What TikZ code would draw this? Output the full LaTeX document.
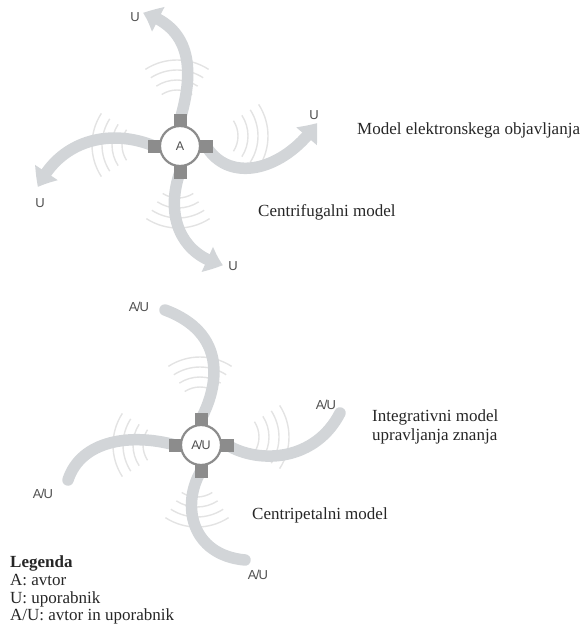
\documentclass[tikz,border=0pt]{standalone}
\usepackage{fontspec}
\setmainfont{Liberation Serif}
\setsansfont{Liberation Sans}
\usetikzlibrary{arrows.meta,bending}
\definecolor{armgrey}{HTML}{D2D5D8}
\definecolor{wavegrey}{HTML}{E3E3E3}
\definecolor{hubgrey}{HTML}{8C8C8C}
\definecolor{inkgrey}{HTML}{505050}
\definecolor{textink}{HTML}{262626}
\begin{document}
\begin{tikzpicture}[x=1pt,y=1pt,
  arm/.style={draw=armgrey, line width=11.5pt},
  armtip/.style={arm, -{Triangle[width=26pt,length=17pt,bend]}},
  armend/.style={arm, line cap=round},
  wave/.style={draw=wavegrey, line width=1.4pt},
  port/.style={fill=hubgrey, minimum size=13pt, inner sep=0pt, draw=none},
  hub/.style={circle, draw=hubgrey, line width=2.2pt, fill=white, minimum size=40pt,
    inner sep=0pt, font=\sffamily\fontsize{12.5}{12.5}\selectfont, text=inkgrey},
  tag/.style={font=\sffamily\fontsize{13}{13}\selectfont, text=inkgrey, inner sep=0pt},
  caption/.style={font=\fontsize{17}{18}\selectfont, text=textink, inner sep=0pt, anchor=base west},
]
\useasboundingbox (0,0) rectangle (583,-624);

% ---------- centrifugal model (top) ----------
\begin{scope}[shift={(180,-146)}]
  % wave fronts along the arms
  \foreach \cx/\cy/\d in {-3/28/90, 30/10/0, -2/-24/-90, -30/1/180}{
    \pgfmathsetmacro\sa{\d-33}
    \pgfmathsetmacro\ea{\d+33}
    \foreach \r in {28,38,48,58}{
      \draw[wave] (\cx,\cy) ++(\sa:\r) arc[start angle=\sa, end angle=\ea, radius=\r];
    }
  }
  \coordinate (aN) at (0,26);
  \coordinate (aE) at (26,0);
  \coordinate (aS) at (0,-26);
  \coordinate (aW) at (-26,0);
  \coordinate (eN) at (-37,133);
  \coordinate (eE) at (137,23);
  \coordinate (eS) at (43,-119);
  \coordinate (eW) at (-142,-41);
  \draw[armtip] (aN) .. controls (10,61) and (20,116) .. (eN);
  \draw[armtip] (aE) .. controls (50,-39) and (105,-24) .. (eE);
  \draw[armtip] (aS) .. controls (-15,-69) and (0,-109) .. (eS);
  \draw[armtip] (aW) .. controls (-70,18) and (-120,6) .. (eW);
  \node[port] (pN) at (aN) {};
  \node[port] (pE) at (aE) {};
  \node[port] (pS) at (aS) {};
  \node[port] (pW) at (aW) {};
  \node[hub] (hubA) at (0,0) {A};
\end{scope}
\node[tag] (uN) at (135,-17) {U};
\node[tag] (uE) at (314,-115) {U};
\node[tag] (uS) at (233,-266) {U};
\node[tag] (uW) at (40,-203) {U};

% ---------- centripetal model (bottom) ----------
\begin{scope}[shift={(201,-445)}]
  \foreach \cx/\cy/\d in {-1/30/90, 30/8/0, -4/-24/-90, -30/0/180}{
    \pgfmathsetmacro\sa{\d-33}
    \pgfmathsetmacro\ea{\d+33}
    \foreach \r in {28,38,48,58}{
      \draw[wave] (\cx,\cy) ++(\sa:\r) arc[start angle=\sa, end angle=\ea, radius=\r];
    }
  }
  \coordinate (bN) at (0,26);
  \coordinate (bE) at (26,0);
  \coordinate (bS) at (0,-26);
  \coordinate (bW) at (-26,0);
  \coordinate (fN) at (-36,135);
  \coordinate (fE) at (139,32);
  \coordinate (fS) at (44,-115);
  \coordinate (fW) at (-133,-35);
  \draw[armend] (bN) .. controls (18,60) and (26,112) .. (fN);
  \draw[armend] (bE) .. controls (60,-20) and (115,-15) .. (fE);
  \draw[armend] (bS) .. controls (-20,-60) and (-10,-110) .. (fS);
  \draw[armend] (bW) .. controls (-70,12) and (-120,5) .. (fW);
  \node[port] (qN) at (bN) {};
  \node[port] (qE) at (bE) {};
  \node[port] (qS) at (bS) {};
  \node[port] (qW) at (bW) {};
  \node[hub] (hubAU) at (0,0) {A\kern-0.8pt/\kern-0.8pt U};
\end{scope}
\node[tag] (vN) at (139,-307) {A\kern-0.8pt/\kern-0.8pt U};
\node[tag] (vE) at (326,-405) {A\kern-0.8pt/\kern-0.8pt U};
\node[tag] (vS) at (258,-575) {A\kern-0.8pt/\kern-0.8pt U};
\node[tag] (vW) at (43,-494) {A\kern-0.8pt/\kern-0.8pt U};

% ---------- captions ----------
\node[caption] (capEl) at (357,-134) {Model elektronskega objavljanja};
\node[caption] (capCf) at (258,-216) {Centrifugalni model};
\node[caption] (capInA) at (372,-421) {Integrativni model};
\node[caption] (capInB) at (372,-440) {upravljanja znanja};
\node[caption] (capCp) at (252,-519) {Centripetalni model};

% ---------- legend ----------
\node[caption] (legT) at (10,-567) {\textbf{Legenda}};
\node[caption] (legA) at (10,-585) {A: avtor};
\node[caption] (legU) at (10,-603) {U: uporabnik};
\node[caption] (legAU) at (10,-620) {A/U: avtor in uporabnik};
\end{tikzpicture}
\end{document}
